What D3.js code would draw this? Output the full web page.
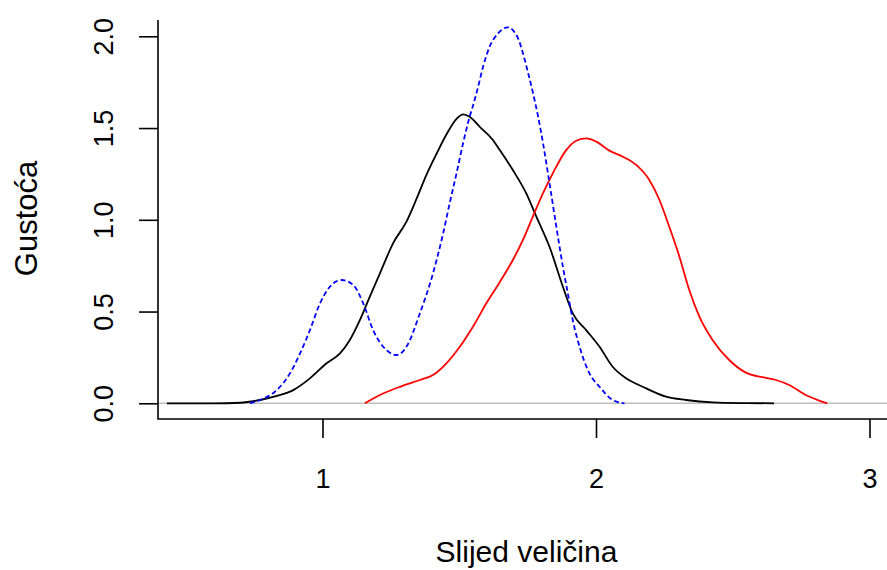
<!DOCTYPE html>
<html>
<head>
<meta charset="utf-8">
<script src="https://cdn.jsdelivr.net/npm/d3@7"></script>
<style>
  html, body { margin: 0; padding: 0; background: #fff; }
  svg { display: block; }
  text { font-family: "Liberation Sans", Arial, sans-serif; fill: #000; }
</style>
</head>
<body>
<svg id="chart" width="887" height="570"></svg>
<script>
// ---- data ----
const xTicks = [1, 2, 3];
const yTicks = [0, 0.5, 1.0, 1.5, 2.0];
const xTitle = "Slijed veličina";
const yTitle = "Gustoća";

const blackX = [0.431, 0.60, 0.70, 0.772, 0.833, 0.893, 0.954, 1.015, 1.064, 1.100, 1.137, 1.173, 1.210, 1.258, 1.307, 1.344, 1.380, 1.417, 1.453, 1.490, 1.514, 1.538, 1.575, 1.623, 1.648, 1.696, 1.745, 1.782, 1.830, 1.879, 1.915, 1.964, 2.013, 2.061, 2.110, 2.171, 2.256, 2.329, 2.426, 2.55, 2.651];
const blackY = [0, 0, 0.003, 0.018, 0.040, 0.072, 0.136, 0.218, 0.272, 0.345, 0.454, 0.581, 0.708, 0.872, 0.990, 1.115, 1.245, 1.360, 1.465, 1.550, 1.575, 1.562, 1.507, 1.435, 1.380, 1.271, 1.144, 1.017, 0.853, 0.635, 0.490, 0.399, 0.308, 0.199, 0.136, 0.090, 0.036, 0.018, 0.005, 0.001, 0];

const blueX = [0.735, 0.772, 0.833, 0.881, 0.918, 0.954, 0.991, 1.027, 1.070, 1.112, 1.149, 1.185, 1.234, 1.271, 1.307, 1.356, 1.404, 1.441, 1.465, 1.490, 1.514, 1.538, 1.550, 1.569, 1.587, 1.611, 1.642, 1.677, 1.715, 1.733, 1.751, 1.769, 1.788, 1.806, 1.830, 1.855, 1.879, 1.897, 1.915, 1.940, 1.976, 2.013, 2.061, 2.104];
const blueY = [0, 0.018, 0.072, 0.163, 0.272, 0.399, 0.545, 0.635, 0.672, 0.645, 0.545, 0.399, 0.290, 0.263, 0.308, 0.490, 0.708, 0.926, 1.090, 1.253, 1.417, 1.562, 1.620, 1.725, 1.834, 1.943, 2.016, 2.049, 1.989, 1.907, 1.805, 1.695, 1.565, 1.420, 1.199, 0.962, 0.744, 0.599, 0.454, 0.308, 0.163, 0.090, 0.018, 0];

const redX = [1.155, 1.210, 1.283, 1.356, 1.404, 1.453, 1.502, 1.550, 1.599, 1.648, 1.696, 1.733, 1.769, 1.806, 1.842, 1.891, 1.928, 1.964, 2.001, 2.049, 2.098, 2.147, 2.195, 2.232, 2.268, 2.305, 2.341, 2.378, 2.426, 2.487, 2.548, 2.609, 2.658, 2.706, 2.767, 2.816, 2.846];
const redY = [0, 0.045, 0.090, 0.127, 0.154, 0.218, 0.308, 0.417, 0.545, 0.660, 0.781, 0.890, 1.017, 1.144, 1.253, 1.380, 1.431, 1.444, 1.426, 1.377, 1.344, 1.299, 1.217, 1.108, 0.962, 0.799, 0.617, 0.472, 0.345, 0.236, 0.167, 0.142, 0.127, 0.100, 0.045, 0.015, 0];

// ---- layout ----
const box = { left: 158, right: 887, top: 20, bottom: 419 };
const svg = d3.select("#chart");

const x = d3.scaleLinear().domain([1, 3]).range([322.5, 869.5]);
const y = d3.scaleLinear().domain([0, 2]).range([403.3, 36.3]);

// reference line at 0
svg.append("line")
  .attr("x1", box.left).attr("x2", box.right)
  .attr("y1", y(0)).attr("y2", y(0))
  .attr("stroke", "#bebebe").attr("stroke-width", 1.5);

// curves
const line = d3.line().x(d => x(d[0])).y(d => y(d[1])).curve(d3.curveMonotoneX);
const series = [
  { xs: blackX, ys: blackY, color: "#000000", dash: null },
  { xs: redX, ys: redY, color: "#ff0000", dash: null },
  { xs: blueX, ys: blueY, color: "#0000ff", dash: "5,3" }
];
series.forEach(s => {
  svg.append("path")
    .attr("d", line(s.xs.map((v, i) => [v, s.ys[i]])))
    .attr("fill", "none")
    .attr("stroke", s.color)
    .attr("stroke-width", 1.8)
    .attr("stroke-dasharray", s.dash);
});

// L-shaped box
svg.append("path")
  .attr("d", `M${box.left},${box.top}V${box.bottom}H${box.right}`)
  .attr("fill", "none").attr("stroke", "#000").attr("stroke-width", 1.6);

// axes
const yAxis = d3.axisLeft(y).tickValues(yTicks).tickFormat(d3.format(".1f")).tickSize(19);
const gy = svg.append("g").attr("transform", `translate(${box.left},0)`).call(yAxis);
gy.select(".domain").remove();
gy.selectAll(".tick line").attr("stroke", "#000").attr("stroke-width", 1.6);
gy.selectAll(".tick text")
  .attr("x", null).attr("dy", null)
  .attr("text-anchor", "middle")
  .attr("transform", "translate(-45,0) rotate(-90)")
  .style("font-size", "27px").style("font-family", '"Liberation Sans", Arial, sans-serif');

const xAxis = d3.axisBottom(x).tickValues(xTicks).tickFormat(d3.format("d")).tickSize(19);
const gx = svg.append("g").attr("transform", `translate(0,${box.bottom})`).call(xAxis);
gx.select(".domain").remove();
gx.selectAll(".tick line").attr("stroke", "#000").attr("stroke-width", 1.6);
gx.selectAll(".tick text")
  .attr("y", 69).attr("dy", null)
  .style("font-size", "27px").style("font-family", '"Liberation Sans", Arial, sans-serif');

// titles
svg.append("text")
  .attr("x", 526.5).attr("y", 562)
  .attr("text-anchor", "middle")
  .style("font-size", "30px")
  .text(xTitle);

svg.append("text")
  .attr("transform", "translate(37,218.5) rotate(-90)")
  .attr("text-anchor", "middle")
  .style("font-size", "31px")
  .text(yTitle);
</script>
</body>
</html>
